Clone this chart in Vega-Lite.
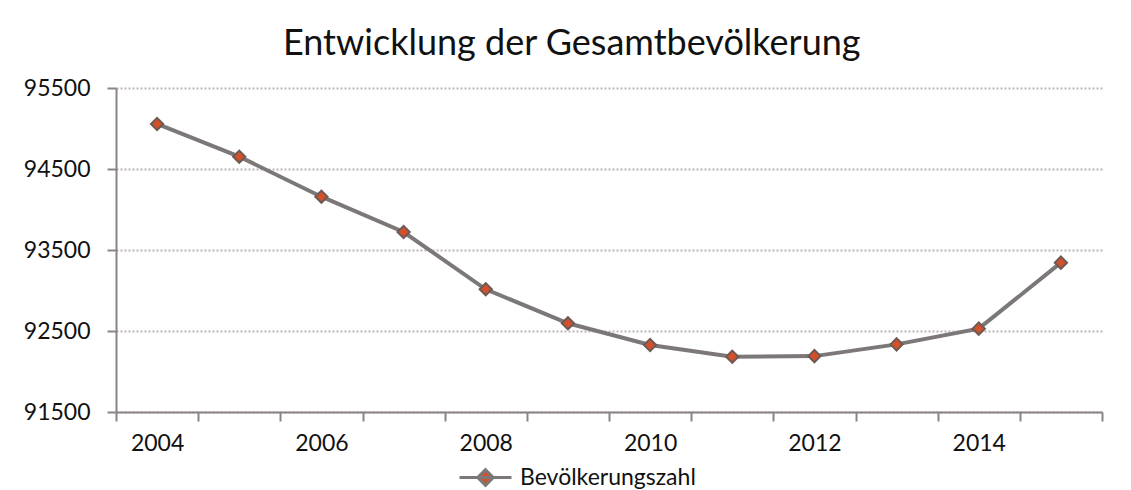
{
  "$schema": "https://vega.github.io/schema/vega-lite/v6.json",
  "width": 986,
  "height": 324,
  "autosize": {"type": "none"},
  "padding": {"left": 116, "top": 88, "right": 29, "bottom": 78},
  "background": "white",
  "title": {
    "text": "Entwicklung der Gesamtbevölkerung",
    "font": "Lato",
    "fontSize": 36,
    "fontWeight": "normal",
    "color": "#111111",
    "anchor": "start",
    "frame": "group",
    "dx": 167,
    "offset": 14
  },
  "data": {
    "values": [
      {"Jahr": "2004", "Wert": 95056, "Reihe": "Bevölkerungszahl"},
      {"Jahr": "2005", "Wert": 94652, "Reihe": "Bevölkerungszahl"},
      {"Jahr": "2006", "Wert": 94158, "Reihe": "Bevölkerungszahl"},
      {"Jahr": "2007", "Wert": 93722, "Reihe": "Bevölkerungszahl"},
      {"Jahr": "2008", "Wert": 93015, "Reihe": "Bevölkerungszahl"},
      {"Jahr": "2009", "Wert": 92595, "Reihe": "Bevölkerungszahl"},
      {"Jahr": "2010", "Wert": 92327, "Reihe": "Bevölkerungszahl"},
      {"Jahr": "2011", "Wert": 92183, "Reihe": "Bevölkerungszahl"},
      {"Jahr": "2012", "Wert": 92190, "Reihe": "Bevölkerungszahl"},
      {"Jahr": "2013", "Wert": 92335, "Reihe": "Bevölkerungszahl"},
      {"Jahr": "2014", "Wert": 92529, "Reihe": "Bevölkerungszahl"},
      {"Jahr": "2015", "Wert": 93344, "Reihe": "Bevölkerungszahl"}
    ]
  },
  "encoding": {
    "x": {
      "field": "Jahr",
      "type": "ordinal",
      "bandPosition": 0.5,
      "scale": {"type": "band", "paddingInner": 0, "paddingOuter": 0},
      "axis": {
        "title": null,
        "tickBand": "extent",
        "labelAngle": 0,
        "labelExpr": "toNumber(datum.value) % 2 == 0 ? datum.label : ''",
        "domainColor": "#8a8484",
        "domainWidth": 2,
        "tickColor": "#8a8484",
        "tickWidth": 2,
        "tickSize": 9,
        "labelFont": "Lato",
        "labelFontSize": 23,
        "labelColor": "#111111",
        "labelPadding": 11,
        "grid": false
      }
    },
    "y": {
      "field": "Wert",
      "type": "quantitative",
      "scale": {"domain": [91500, 95500], "nice": false, "zero": false},
      "axis": {
        "title": null,
        "values": [91500, 92500, 93500, 94500, 95500],
        "format": "d",
        "domainColor": "#8a8484",
        "domainWidth": 2,
        "tickColor": "#8a8484",
        "tickWidth": 2,
        "tickSize": 9,
        "labelFont": "Lato",
        "labelFontSize": 23,
        "labelColor": "#111111",
        "labelPadding": 17,
        "grid": true,
        "gridColor": "#bdb5b5",
        "gridWidth": 2,
        "gridDash": [2, 2]
      }
    }
  },
  "layer": [
    {
      "mark": {"type": "line", "strokeWidth": 4, "stroke": "#7d7878"},
      "encoding": {"detail": {"field": "Reihe"}}
    },
    {
      "mark": {"type": "point", "filled": true, "shape": "diamond", "size": 150, "stroke": "#6e5a55", "strokeWidth": 2, "opacity": 1},
      "encoding": {
        "fill": {
          "field": "Reihe",
          "type": "nominal",
          "scale": {"range": ["#d2502a"]},
          "legend": {
            "title": null,
            "orient": "none",
            "legendX": 342,
            "legendY": 362,
            "symbolType": "M-1,0H1M0,-0.3L0.3,0L0,0.3L-0.3,0Z",
            "symbolSize": 2700,
            "symbolStrokeWidth": 3,
            "symbolStrokeColor": "#7d7878",
            "symbolFillColor": "#d2502a",
            "symbolOpacity": 1,
            "labelFont": "Lato",
            "labelFontSize": 23,
            "labelColor": "#111111",
            "labelOffset": 7,
            "labelLimit": 400,
            "encode": {"symbols": {"update": {"fill": {"value": "#d2502a"}, "fillOpacity": {"value": 1}, "stroke": {"value": "#7d7878"}, "strokeWidth": {"value": 3}}}}
          }
        }
      }
    }
  ],
  "config": {
    "view": {"stroke": null}
  }
}
